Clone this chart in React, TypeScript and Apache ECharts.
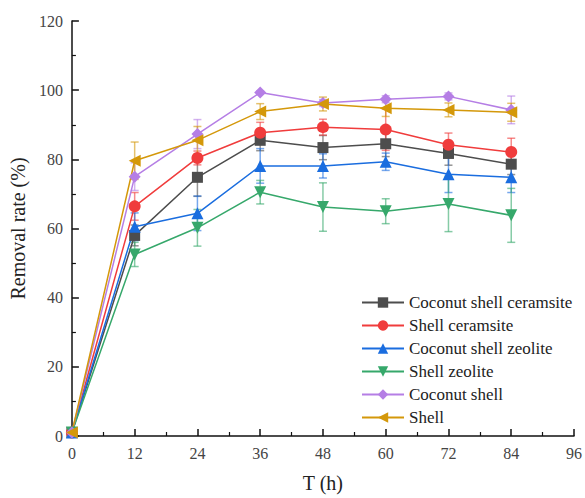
import React, { useEffect, useRef } from "react";
import * as echarts from "echarts";

const times = [0, 12, 24, 36, 48, 60, 72, 84];
const xTicks = [0, 12, 24, 36, 48, 60, 72, 84, 96];
const yTicks = [0, 20, 40, 60, 80, 100, 120];

const names = [
  "Coconut shell ceramsite",
  "Shell ceramsite",
  "Coconut shell zeolite",
  "Shell zeolite",
  "Coconut shell",
  "Shell",
];

const cocoCeram = [1, 58, 74.8, 85.5, 83.4, 84.5, 81.7, 78.6];
const cocoCeramErr = [0, 3, 5.5, 3, 3.5, 3.7, 3.4, 3];
const shellCeram = [1, 66.4, 80.4, 87.7, 89.3, 88.6, 84.2, 82.1];
const shellCeramErr = [0, 4, 2, 3, 2.3, 6, 3.4, 4];
const cocoZeo = [1, 60.5, 64.4, 78.1, 78.1, 79.3, 75.7, 74.8];
const cocoZeoErr = [0, 4, 5, 5, 3.5, 2.5, 5.3, 4.4];
const shellZeo = [1, 52.5, 60.2, 70.5, 66.2, 65, 67.1, 63.8];
const shellZeoErr = [0, 3.5, 5.3, 3.4, 7, 3.6, 8, 7.8];
const coco = [1, 75, 87.3, 99.3, 96.3, 97.4, 98.2, 94.3];
const cocoErr = [0, 4, 4.2, 0.5, 1, 1, 1, 4];
const shell = [1, 79.6, 85.5, 93.8, 96, 94.8, 94.3, 93.6];
const shellErr = [0, 5.4, 4, 2.3, 2, 2.4, 2, 2.6];

const values = [cocoCeram, shellCeram, cocoZeo, shellZeo, coco, shell];
const errors = [cocoCeramErr, shellCeramErr, cocoZeoErr, shellZeoErr, cocoErr, shellErr];
const colors = ["#4d4d4d", "#f03c3c", "#1a6ddf", "#36a86b", "#b57ee5", "#d4980a"];
const symbols = ["rect", "circle", "triangle", "triangle", "diamond", "triangle"];
const rotations = [0, 0, 0, 180, 0, 90];
const sizes = [11, 12, 12, 12, 12, 12];

const FONT = "Liberation Serif, DejaVu Serif, serif";

export default function App() {
  const ref = useRef<HTMLDivElement>(null);
  useEffect(() => {
    if (!ref.current) return;
    const chart = echarts.init(ref.current, null, { renderer: "svg" });
    const lineSeries: any[] = names.map((n, i) => ({
      name: n,
      type: "line",
      data: times.map((t, j) => [t, values[i][j]]),
      symbol: symbols[i],
      symbolSize: sizes[i],
      symbolRotate: rotations[i],
      lineStyle: { color: colors[i], width: 1.5 },
      itemStyle: { color: colors[i] },
      z: 3,
    }));
    const errSeries: any[] = names.map((n, i) => ({
      name: n + " error",
      type: "custom",
      data: times.map((t, j) => [t, values[i][j], errors[i][j]]),
      encode: { x: 0, y: 1 },
      z: 2,
      silent: true,
      renderItem: (params: any, api: any) => {
        const x = api.value(0);
        const y = api.value(1);
        const e = api.value(2);
        if (!e) return { type: "group", children: [] };
        const hi = api.coord([x, y + e]);
        const lo = api.coord([x, y - e]);
        const w = 4;
        const style = { stroke: colors[i], lineWidth: 1.5, opacity: 0.6 };
        return {
          type: "group",
          children: [
            { type: "line", shape: { x1: hi[0], y1: hi[1], x2: lo[0], y2: lo[1] }, style },
            { type: "line", shape: { x1: hi[0] - w, y1: hi[1], x2: hi[0] + w, y2: hi[1] }, style },
            { type: "line", shape: { x1: lo[0] - w, y1: lo[1], x2: lo[0] + w, y2: lo[1] }, style },
          ],
        };
      },
    }));
    chart.setOption({
      animation: false,
      backgroundColor: "#ffffff",
      textStyle: { fontFamily: FONT },
      grid: { left: 71, right: 9, top: 21, bottom: 58, containLabel: false },
      legend: {
        data: names,
        orient: "vertical",
        left: 356,
        top: 289,
        itemWidth: 42,
        itemHeight: 13,
        itemGap: 6,
        textStyle: { fontFamily: FONT, fontSize: 17, color: "#222" },
      },
      xAxis: {
        type: "value",
        min: 0,
        max: 96,
        interval: 12,
        name: "T (h)",
        nameLocation: "middle",
        nameGap: 37,
        nameTextStyle: { fontFamily: FONT, fontSize: 20, color: "#222" },
        axisLine: { show: true, lineStyle: { color: "#111", width: 1.5 } },
        axisTick: { show: true, inside: true, length: 7, lineStyle: { color: "#111", width: 1.5 } },
        minorTick: { show: true, splitNumber: 2, length: 4, lineStyle: { color: "#111", width: 1.2 } },
        axisLabel: {
          margin: 9,
          fontFamily: FONT,
          fontSize: 16,
          color: "#444",
          formatter: (v: number) => (xTicks.includes(v) ? String(v) : ""),
        },
        splitLine: { show: false },
      },
      yAxis: {
        type: "value",
        min: 0,
        max: 120,
        interval: 20,
        name: "Removal rate (%)",
        nameLocation: "middle",
        nameGap: 35,
        nameTextStyle: { fontFamily: FONT, fontSize: 20, color: "#222" },
        axisLine: { show: true, lineStyle: { color: "#111", width: 1.5 } },
        axisTick: { show: true, inside: true, length: 7, lineStyle: { color: "#111", width: 1.5 } },
        minorTick: { show: true, splitNumber: 2, length: 4, lineStyle: { color: "#111", width: 1.2 } },
        axisLabel: {
          margin: 9,
          fontFamily: FONT,
          fontSize: 16,
          color: "#444",
          formatter: (v: number) => (yTicks.includes(v) ? String(v) : ""),
        },
        splitLine: { show: false },
      },
      series: [...errSeries, ...lineSeries],
    });
    return () => chart.dispose();
  }, []);
  return <div ref={ref} style={{ width: 585, height: 498, position: "absolute", left: 0, top: 0 }} />;
}
